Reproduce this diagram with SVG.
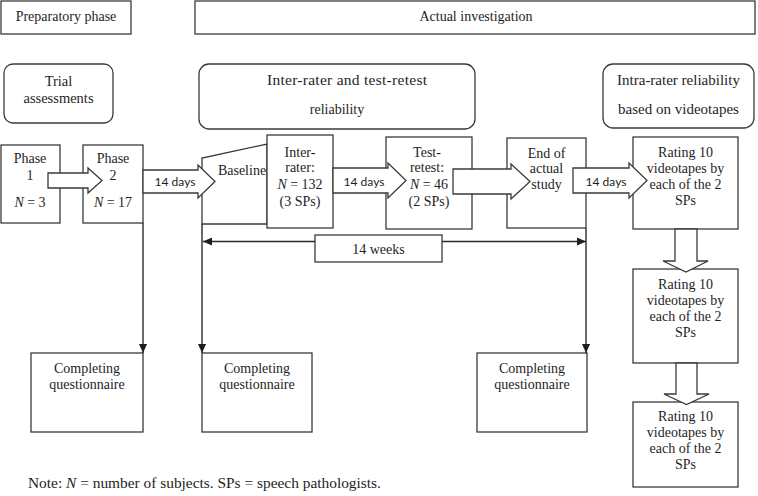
<svg xmlns="http://www.w3.org/2000/svg" width="758" height="496" viewBox="0 0 758 496">
<style>
.b{fill:#fff;stroke:#3a3a3a;stroke-width:1.3}
.l{fill:none;stroke:#2a2a2a;stroke-width:1.4}
.t{font-family:"Liberation Serif",serif;font-size:14px;fill:#1e1e1e;text-anchor:middle}
.d{font-family:Lato,"Liberation Sans",sans-serif;font-size:12px;fill:#1e1e1e;text-anchor:middle}
.i{font-style:italic}
</style>
<defs>
<marker id="ah" viewBox="0 0 10 10" refX="10" refY="5" markerWidth="9" markerHeight="9" markerUnits="userSpaceOnUse" orient="auto-start-reverse">
<path d="M0,0.5 L10,5 L0,9.5 z" fill="#1e1e1e"/>
</marker>
</defs>
<rect width="758" height="496" fill="#fff"/>

<g id="prep">
<rect class="b" x="1" y="1" width="130" height="33"/>
<text class="t" x="66" y="21">Preparatory phase</text>
</g>
<g id="actual">
<rect class="b" x="195" y="1" width="560" height="33"/>
<text class="t" x="476" y="21">Actual investigation</text>
</g>
<g id="trial">
<rect class="b" x="4" y="64" width="109" height="59" rx="9"/>
<text class="t" x="58.5" y="86" style="font-size:14.5px">Trial</text>
<text class="t" x="58.5" y="103" style="font-size:14.5px">assessments</text>
</g>
<g id="interrater-head">
<rect class="b" x="199" y="64" width="276" height="65" rx="10"/>
<text class="t" x="347" y="85" style="font-size:15.5px" textLength="160" lengthAdjust="spacing">Inter-rater and test-retest</text>
<text class="t" x="337" y="114">reliability</text>
</g>
<g id="intrarater-head">
<rect class="b" x="603" y="64" width="151" height="64" rx="10"/>
<text class="t" x="678.5" y="85" style="font-size:15px">Intra-rater reliability</text>
<text class="t" x="678.5" y="114" style="font-size:15px">based on videotapes</text>
</g>

<g id="phase1">
<rect class="b" x="1" y="145" width="59" height="78"/>
<text class="t" x="30" y="163">Phase</text>
<text class="t" x="30" y="180">1</text>
<text class="t" x="30" y="207"><tspan class="i">N</tspan> = 3</text>
</g>
<g id="phase2">
<rect class="b" x="83" y="145" width="60" height="78"/>
<text class="t" x="113" y="163">Phase</text>
<text class="t" x="113" y="180">2</text>
<text class="t" x="113" y="207"><tspan class="i">N</tspan> = 17</text>
</g>
<g id="baseline">
<polygon class="b" points="202,224 202,158 267,144 267,224"/>
<text class="t" x="242" y="175">Baseline</text>
</g>
<g id="interrater">
<rect class="b" x="267" y="135" width="66" height="93"/>
<text class="t" x="300" y="157">Inter-</text>
<text class="t" x="300" y="172">rater:</text>
<text class="t" x="300" y="189"><tspan class="i">N</tspan> = 132</text>
<text class="t" x="300" y="206">(3 SPs)</text>
</g>
<g id="testretest">
<rect class="b" x="386" y="137" width="86" height="92"/>
<text class="t" x="427" y="157">Test-</text>
<text class="t" x="427" y="172">retest:</text>
<text class="t" x="429" y="189"><tspan class="i">N</tspan> = 46</text>
<text class="t" x="429" y="206">(2 SPs)</text>
</g>
<g id="end">
<rect class="b" x="507" y="138" width="79" height="90"/>
<text class="t" x="546.5" y="158">End of</text>
<text class="t" x="546.5" y="173">actual</text>
<text class="t" x="546.5" y="189">study</text>
</g>
<g id="rating1">
<rect class="b" x="633" y="137" width="105" height="92"/>
<text class="t" x="685.5" y="157">Rating 10</text>
<text class="t" x="685.5" y="173">videotapes by</text>
<text class="t" x="685.5" y="189">each of the 2</text>
<text class="t" x="685.5" y="205">SPs</text>
</g>
<g id="rating2">
<rect class="b" x="633" y="269" width="105" height="94"/>
<text class="t" x="685.5" y="289">Rating 10</text>
<text class="t" x="685.5" y="305">videotapes by</text>
<text class="t" x="685.5" y="321">each of the 2</text>
<text class="t" x="685.5" y="337">SPs</text>
</g>
<g id="rating3">
<rect class="b" x="633" y="402" width="105" height="85"/>
<text class="t" x="685.5" y="421">Rating 10</text>
<text class="t" x="685.5" y="437">videotapes by</text>
<text class="t" x="685.5" y="453">each of the 2</text>
<text class="t" x="685.5" y="469">SPs</text>
</g>
<g id="quest1">
<rect class="b" x="31" y="353" width="112" height="79"/>
<text class="t" x="87" y="373">Completing</text>
<text class="t" x="87" y="389">questionnaire</text>
</g>
<g id="quest2">
<rect class="b" x="202" y="353" width="110" height="79"/>
<text class="t" x="257" y="373">Completing</text>
<text class="t" x="257" y="389">questionnaire</text>
</g>
<g id="quest3">
<rect class="b" x="477" y="353" width="110" height="79"/>
<text class="t" x="532" y="373">Completing</text>
<text class="t" x="532" y="389">questionnaire</text>
</g>

<g id="connectors">
<line class="l" x1="143" y1="223" x2="143" y2="353" marker-end="url(#ah)"/>
<line class="l" x1="202" y1="224" x2="202" y2="353" marker-end="url(#ah)"/>
<line class="l" x1="586" y1="228" x2="586" y2="353" marker-end="url(#ah)"/>
<line class="l" x1="203" y1="241.5" x2="586" y2="241.5" marker-start="url(#ah)" marker-end="url(#ah)"/>
<rect class="b" x="315" y="235" width="127" height="27"/>
<text class="t" x="378.5" y="254">14 weeks</text>
<polygon class="b" points="48,173 88,173 88,168 102,180.5 88,193 88,188 48,188"/>
<polygon class="b" points="143,170 198,170 198,165 215,181.5 198,198 198,193 143,193"/>
<text class="d" x="175" y="186">14 days</text>
<polygon class="b" points="333,168 388,168 388,163 406,180.5 388,198 388,193 333,193"/>
<text class="d" x="364" y="186">14 days</text>
<polygon class="b" points="453,169 511,169 511,164 530,181.5 511,199 511,194 453,194"/>
<polygon class="b" points="573,168 629,168 629,163 647,180.5 629,198 629,193 573,193"/>
<text class="d" x="606" y="186">14 days</text>
<polygon class="b" points="675,229 675,261 663,261 686,272 708,261 697,261 697,229"/>
<polygon class="b" points="676,363 676,394 664,394 686.5,404.5 709,394 697,394 697,363"/>
</g>

<text x="28" y="488" style="font-family:'Liberation Serif',serif;font-size:15.4px;fill:#1e1e1e">Note: <tspan font-style="italic">N</tspan> = number of subjects. SPs = speech pathologists.</text>
</svg>
